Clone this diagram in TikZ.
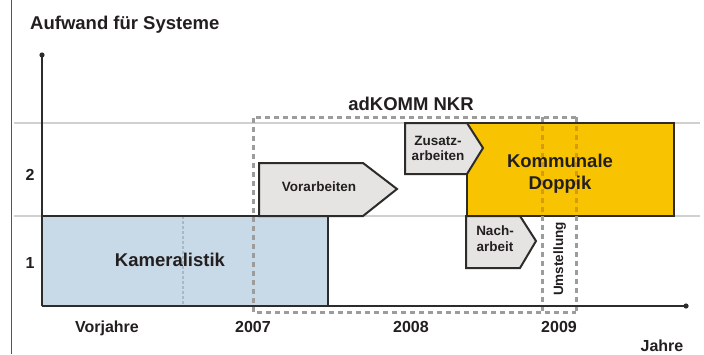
\documentclass[tikz,border=0pt]{standalone}
\usepackage{fontspec}
\setmainfont{Liberation Sans}
\definecolor{kblue}{HTML}{C8DAE7}
\definecolor{doppik}{HTML}{F8C300}
\definecolor{abox}{HTML}{E6E3E3}
\definecolor{boxc}{HTML}{2E2B2B}
\definecolor{dashc}{HTML}{9C9C9C}
\definecolor{dasho}{HTML}{D89A10}
\definecolor{gridc}{HTML}{D0D0D0}
\definecolor{txt}{HTML}{231F20}
\definecolor{framec}{HTML}{555555}
\begin{document}
\begin{tikzpicture}[x=1pt,y=-1pt,
  gridl/.style={draw=gridc, line width=2pt},
  boxline/.style={draw=boxc, line width=2pt, line join=miter},
  arrowbox/.style={fill=abox, draw=boxc, line width=2pt, line join=miter},
  dashline/.style={draw=dashc, line width=3pt, dash pattern=on 5pt off 4pt},
  faintdash/.style={draw=kblue!70!black, line width=1.5pt, dash pattern=on 3pt off 2pt, opacity=0.5},
  axisline/.style={draw=boxc, line width=2.4pt},
  bigtxt/.style={font=\fontsize{18.5}{22}\selectfont\bfseries, text=txt, inner sep=0pt, anchor=base},
  smalltxt/.style={font=\fontsize{13.5}{15}\selectfont\bfseries, text=txt, inner sep=0pt, anchor=base},
  yeartxt/.style={font=\fontsize{16}{18}\selectfont\bfseries, text=txt, inner sep=0pt, anchor=base},
]
\useasboundingbox (0,0) rectangle (704,354);
\fill[white] (0,0) rectangle (704,354);
% left frame line
\draw[draw=framec, line width=1.3pt] (11.5,0) -- (11.5,354);
% horizontal level lines
\draw[gridl] (14,123) -- (700,123);
\draw[gridl] (14,216) -- (700,216);
% Kameralistik
\path[fill=kblue] (42,216) rectangle (328,306);
\draw[faintdash] (183,216) -- (183,306);
\draw[boxline] (42,216) -- (328,216) -- (328,306);
% Kommunale Doppik
\path[fill=doppik, boxline] (467,123) rectangle (674,216);
% adKOMM NKR dashed frame
\draw[dashline] (576,117) -- (253,117) -- (253,312) -- (576,312);
\draw[dashline] (542,117) -- (542,312);
\draw[dashline] (576,117) -- (576,312);
\begin{scope}
  \clip (468,124) rectangle (673,215);
  \draw[dashline, draw=dasho] (542,117) -- (542,312);
  \draw[dashline, draw=dasho] (576,117) -- (576,312);
\end{scope}
% process arrows
\draw[arrowbox] (259,163) -- (363,163) -- (397,189) -- (363,216) -- (259,216) -- cycle;
\draw[arrowbox] (405,123) -- (467,123) -- (483,148) -- (467,174) -- (405,174) -- cycle;
\draw[arrowbox] (466,216) -- (520,216) -- (536,241) -- (520,268) -- (466,268) -- cycle;
% axes
\coordinate (o) at (42,306);
\coordinate (ytop) at (42,55);
\coordinate (xend) at (686,306);
\draw[axisline] (o) -- (ytop);
\draw[axisline] (o) -- (xend);
\fill[boxc] (ytop) circle (2.6);
\fill[boxc] (xend) circle (2.6);
% texts
\node[bigtxt, anchor=base west] (title) at (30,29) {Aufwand für Systeme};
\node[bigtxt] (adk) at (411,110) {adKOMM NKR};
\node[bigtxt] (kam) at (170,266) {Kameralistik};
\node[bigtxt] (kom1) at (560,167) {Kommunale};
\node[bigtxt] (kom2) at (560,189) {Doppik};
\node[smalltxt] (vor) at (319,191) {Vorarbeiten};
\node[smalltxt] (zu1) at (438,145) {Zusatz-};
\node[smalltxt] (zu2) at (438,160) {arbeiten};
\node[smalltxt] (na1) at (495,235) {Nach-};
\node[smalltxt] (na2) at (495,251) {arbeit};
\node[smalltxt, rotate=90] (um) at (563,259) {Umstellung};
\node[yeartxt] (l2) at (30,180) {2};
\node[yeartxt] (l1) at (30,268) {1};
\node[yeartxt] (vj) at (107,332) {Vorjahre};
\node[yeartxt] (y7) at (253,332) {2007};
\node[yeartxt] (y8) at (411,332) {2008};
\node[yeartxt] (y9) at (559,332) {2009};
\node[yeartxt] (ja) at (662,351) {Jahre};
\end{tikzpicture}
\end{document}
